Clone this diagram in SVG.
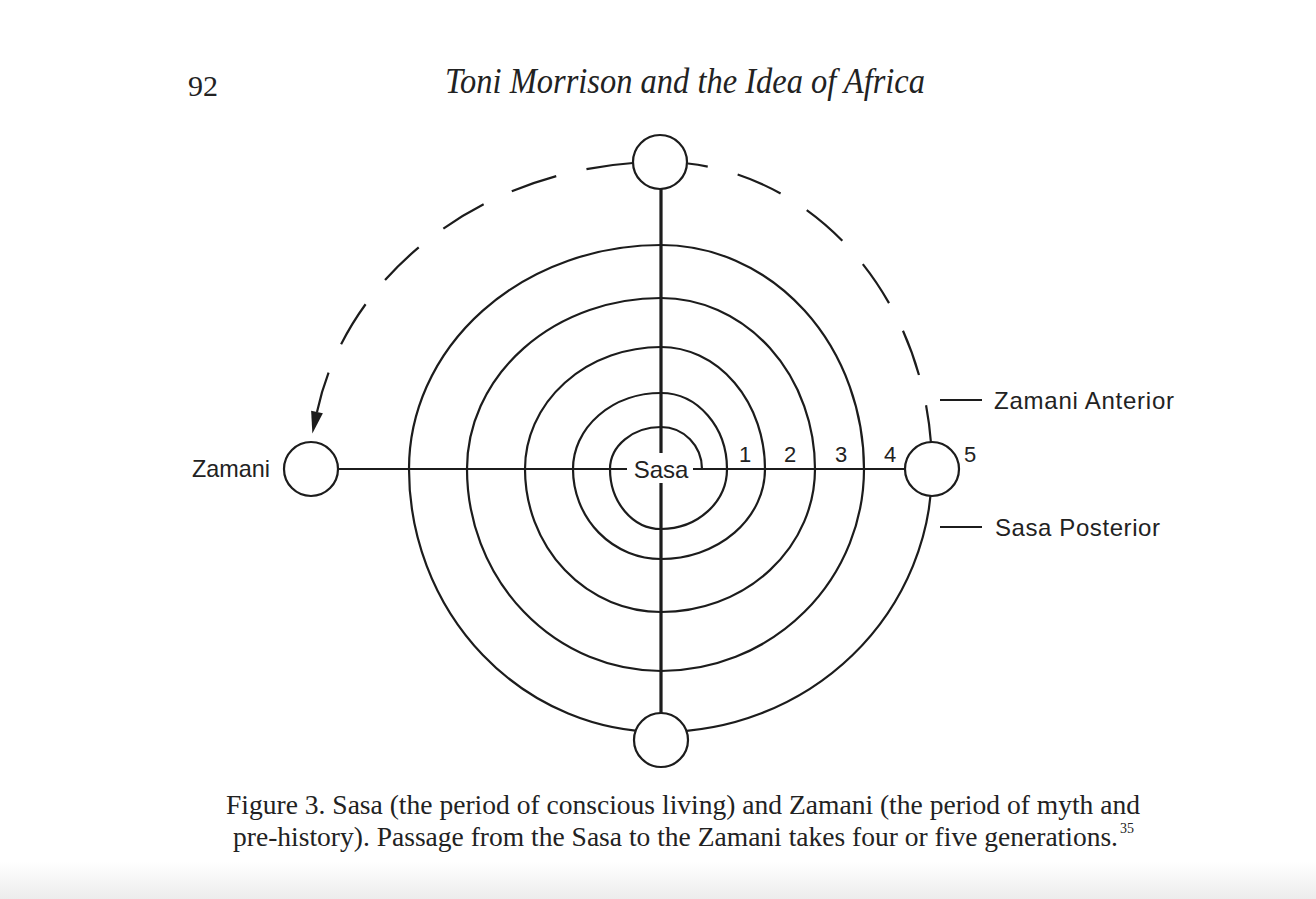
<svg xmlns="http://www.w3.org/2000/svg" width="1316" height="899" viewBox="0 0 1316 899">
<style>
.sp{fill:none;stroke:#1c1c1c;stroke-width:2.2}
.ax{fill:none;stroke:#1c1c1c;stroke-width:2}
.vx{fill:none;stroke:#1c1c1c;stroke-width:3.2}
.da{fill:none;stroke:#1c1c1c;stroke-width:2.2;stroke-dasharray:47 31}
.nd{fill:#fff;stroke:#1c1c1c;stroke-width:2.2}
.lb{font-family:"Liberation Sans",Arial,sans-serif;font-size:24px;fill:#222}
.num{font-family:"Liberation Sans",Arial,sans-serif;font-size:22px;fill:#222;text-anchor:middle}
.sf{font-family:"Liberation Serif","Times New Roman",serif;fill:#222}
</style>
<defs>
<marker id="ah" markerUnits="userSpaceOnUse" markerWidth="22" markerHeight="12" refX="0" refY="6" orient="auto" overflow="visible">
<path d="M0,0 L22,6 L0,12 z" fill="#1c1c1c" stroke="none"/>
</marker>
<linearGradient id="bg" x1="0" y1="0" x2="0" y2="1">
<stop offset="0" stop-color="#ffffff"/>
<stop offset="1" stop-color="#ececec"/>
</linearGradient>
</defs>
<rect x="0" y="0" width="1316" height="899" fill="#fff"/>
<rect x="0" y="862" width="1316" height="37" fill="url(#bg)"/>

<g id="header">
<text class="sf" x="188" y="96" font-size="30">92</text>
<text class="sf" x="445" y="93" font-size="35" font-style="italic" textLength="480" lengthAdjust="spacingAndGlyphs">Toni Morrison and the Idea of Africa</text>
</g>

<g id="connectors">
<path id="spiral" class="sp" d="M702,469 A41,42 0 0 0 661,427 A51,42 0 0 0 610,469 A51,60 0 0 0 661,529 A66,60 0 0 0 727,469 A66,76 0 0 0 661,393 A88,76 0 0 0 573,469 A88,90 0 0 0 661,559 A104,90 0 0 0 765,469 A104,122 0 0 0 661,347 A136,122 0 0 0 525,469 A136,143 0 0 0 661,612 A154,143 0 0 0 815,469 A154,171 0 0 0 661,298 A194,171 0 0 0 467,469 A194,202 0 0 0 661,671 A203,202 0 0 0 864,469 A203,224 0 0 0 661,245 A252,224 0 0 0 409,469 A252,263 0 0 0 661,732 A271,263 0 0 0 932,469"/>
<path class="ax" d="M338,469 H627 M693,469 H905"/>
<path class="vx" d="M661,189 V453 M661,483 V713"/>
<path class="da" stroke-dashoffset="27" d="M688,163.5 A271,307 0 0 1 931,443"/>
<path class="da" d="M633,163 A350,307 0 0 0 317,412" marker-end="url(#ah)"/>
<path class="ax" d="M940,400 H982 M940,527 H982"/>
</g>

<g id="node-top"><circle class="nd" cx="660" cy="162" r="27"/></g>
<g id="node-bottom"><circle class="nd" cx="661" cy="740" r="27"/></g>
<g id="node-zamani"><circle class="nd" cx="311" cy="469" r="27"/>
<text class="lb" x="192" y="477" textLength="78" lengthAdjust="spacingAndGlyphs">Zamani</text></g>
<g id="node-right"><circle class="nd" cx="932" cy="469" r="27"/></g>
<g id="sasa"><text class="lb" x="661" y="477.5" text-anchor="middle">Sasa</text></g>
<g id="numbers">
<text class="num" x="745" y="462">1</text>
<text class="num" x="790" y="462">2</text>
<text class="num" x="841" y="462">3</text>
<text class="num" x="890" y="462">4</text>
<text class="num" x="970" y="462">5</text>
</g>
<g id="labels">
<text class="lb" x="994" y="409" textLength="180" lengthAdjust="spacing">Zamani Anterior</text>
<text class="lb" x="995" y="536" textLength="165" lengthAdjust="spacing">Sasa Posterior</text>
</g>

<g id="caption">
<text class="sf" x="226" y="814" font-size="27.5" textLength="914" lengthAdjust="spacingAndGlyphs">Figure 3. Sasa (the period of conscious living) and Zamani (the period of myth and</text>
<text class="sf" x="233" y="846" font-size="27.5" textLength="885" lengthAdjust="spacingAndGlyphs">pre-history). Passage from the Sasa to the Zamani takes four or five generations.</text>
<text class="sf" x="1120" y="833" font-size="14">35</text>
</g>
</svg>
